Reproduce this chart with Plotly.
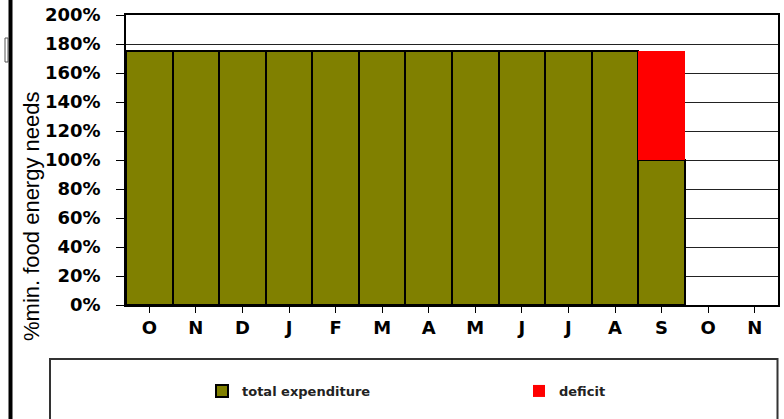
import plotly.graph_objects as go

months = ["O", "N", "D", "J", "F", "M", "A", "M", "J", "J", "A", "S", "O", "N"]
total_expenditure = [175, 175, 175, 175, 175, 175, 175, 175, 175, 175, 175, 100, None, None]
deficit = [None, None, None, None, None, None, None, None, None, None, None, 75, None, None]
y_ticks = [0, 20, 40, 60, 80, 100, 120, 140, 160, 180, 200]

x_pos = list(range(len(months)))

W, H = 784, 419
L, R, T, B = 126, 6, 15, 114
pw, ph = W - L - R, H - T - B


def px_x(x):
    return (x - L) / pw


def px_y(y):
    return (H - B - y) / ph


fig = go.Figure()
fig.add_trace(go.Bar(
    x=x_pos, y=total_expenditure, name="total expenditure", legend="legend",
    marker=dict(color="#808000", line=dict(color="#000000", width=2)),
))
fig.add_trace(go.Bar(
    x=x_pos, y=deficit, name="deficit", legend="legend2",
    marker=dict(color="#FF0000", line=dict(width=0)),
))

tick_font = dict(family="DejaVu Sans", size=18, color="#000000", weight="bold")
legend_font = dict(family="DejaVu Sans", size=13, weight="bold", color="#222222")

fig.update_layout(
    width=W, height=H,
    margin=dict(l=L, r=R, t=T, b=B, autoexpand=False),
    barmode="stack", bargap=0,
    paper_bgcolor="white", plot_bgcolor="white",
    font=dict(family="DejaVu Sans", color="#000000"),
    showlegend=True,
    legend=dict(
        orientation="h", x=px_x(202), y=px_y(391), xanchor="left", yanchor="middle",
        font=legend_font, itemwidth=30, bgcolor="rgba(0,0,0,0)",
    ),
    legend2=dict(
        orientation="h", x=px_x(519), y=px_y(391), xanchor="left", yanchor="middle",
        font=legend_font, itemwidth=30, bgcolor="rgba(0,0,0,0)",
    ),
    xaxis=dict(
        tickmode="array", tickvals=x_pos, ticktext=months,
        range=[-0.5, len(months) - 0.5],
        showline=True, linecolor="#000000", linewidth=1.5, mirror=True,
        ticks="outside", ticklen=6, tickcolor="#000000", tickson="boundaries",
        tickfont=tick_font, automargin=False,
        showgrid=False,
    ),
    yaxis=dict(
        range=[0, 200], tickvals=y_ticks,
        ticktext=[f"{v}%" for v in y_ticks],
        showline=True, linecolor="#000000", linewidth=1.5, mirror=True,
        ticks="outside", ticklen=8, tickcolor="#000000",
        tickfont=tick_font, automargin=False, ticklabelstandoff=12,
        showgrid=True, gridcolor="#222222", gridwidth=1,
        zeroline=False,
    ),
    shapes=[
        dict(type="rect", xref="paper", yref="paper",
             x0=px_x(50), x1=px_x(777.5), y0=px_y(359), y1=px_y(430),
             line=dict(color="#333333", width=2), fillcolor="rgba(0,0,0,0)", layer="below"),
        dict(type="line", xref="paper", yref="paper",
             x0=px_x(10.5), x1=px_x(10.5), y0=px_y(-5), y1=px_y(425),
             line=dict(color="#000000", width=4)),
        dict(type="rect", xref="paper", yref="paper",
             x0=px_x(5), x1=px_x(8), y0=px_y(38), y1=px_y(62),
             line=dict(color="#555555", width=1), fillcolor="white"),
    ],
    annotations=[
        dict(text="%min. food energy needs", textangle=-90,
             xref="paper", yref="paper", x=px_x(32), y=px_y(216),
             xanchor="center", yanchor="middle", showarrow=False,
             font=dict(family="Liberation Sans", size=22, color="#000000")),
    ],
)

fig.write_html("out.html", config={"displayModeBar": False},
               post_script="document.body.style.margin='0px';")
